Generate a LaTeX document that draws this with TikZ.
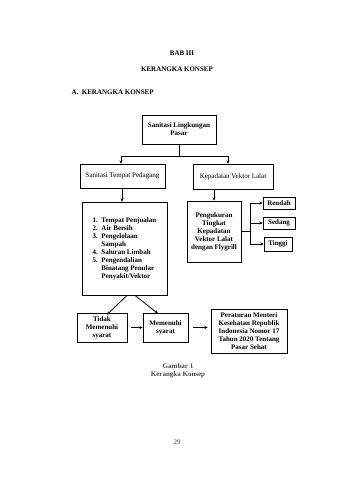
\documentclass[tikz,border=0pt]{standalone}
\usepackage{fontspec}
\setmainfont{Liberation Serif}
\usetikzlibrary{arrows.meta,positioning}
\definecolor{captiongray}{RGB}{70,70,70}
\tikzset{
  box/.style={rectangle,draw=black,line width=0.8pt,fill=white,
              align=center,inner sep=1pt,
              font=\fontsize{7}{8}\selectfont\bfseries},
  heading/.style={font=\fontsize{7}{8.5}\selectfont\bfseries},
  arrow/.style={-{Stealth[length=3.2pt,width=3.2pt]},line width=0.8pt},
  link/.style={line width=0.8pt},
}
\begin{document}
\begin{tikzpicture}[x=1pt,y=-1pt]
    \useasboundingbox[fill=white] (0,0) rectangle (339,480);

    % Headings
    \node[heading] (bab) at (182,53) {BAB III};
    \node[heading] (judul) at (177,69) {KERANGKA KONSEP};
    \node[heading,anchor=west] (sub) at (68,92) {A.\ \ KERANGKA KONSEP};

    % Top
    \node[box,minimum width=74pt,minimum height=29pt] (pasar) at (179,129.5)
        {Sanitasi Lingkungan\\Pasar};

    % Second row
    \node[box,minimum width=85pt,minimum height=24pt] (tempat) at (122.5,176)
        {\mdseries Sanitasi Tempat Pedagang};
    \node[box,minimum width=80pt,minimum height=25pt] (vektor) at (233,176.5)
        {\mdseries Kepadatan Vektor Lalat};

    % List
    \node[box,minimum width=85pt,minimum height=93pt] (daftar) at (124.5,248.5)
        {\begin{tabular}{@{}r@{\ \ }l@{}}
         1. & Tempat Penjualan\\
         2. & Air Bersih\\
         3. & Pengelolaan\\
            & Sampah\\
         4. & Saluran Limbah\\
         5. & Pengendalian\\
            & Binatang Penular\\
            & Penyakit/Vektor
         \end{tabular}};

    % Measurement
    \node[box,minimum width=54pt,minimum height=61pt] (ukur) at (214,231.5)
        {Pengukuran\\Tingkat\\Kepadatan\\Vektor Lalat\\dengan Flygrill};
    \node[box,minimum width=32pt,minimum height=12pt] (rendah) at (279,203) {Rendah};
    \node[box,minimum width=32pt,minimum height=12pt] (sedang) at (279,223) {Sedang};
    \node[box,minimum width=28pt,minimum height=14pt] (tinggi) at (278,244) {Tinggi};

    % Bottom row
    \node[box,minimum width=50pt,minimum height=29pt] (tidak) at (102,327.5)
        {Tidak\\Memenuhi\\syarat};
    \node[box,minimum width=45pt,minimum height=29pt] (memenuhi) at (165.5,327.5)
        {Memenuhi\\syarat};
    \node[box,minimum width=76pt,minimum height=44pt] (permenkes) at (249,331)
        {Peraturan Menteri\\Kesehatan Republik\\Indonesia Nomor 17\\Tahun 2020 Tentang\\Pasar Sehat};

    % Caption
    \node[heading,text=captiongray,align=center] (gambar) at (178,371)
        {Gambar 1\\Kerangka Konsep};
    \node[font=\fontsize{7}{8}\selectfont,text=captiongray] (hal) at (177,442) {29};

    \draw[link] (pasar.south) -- ++(0,12) coordinate (cabang);
    \draw[arrow] (cabang) -| ([xshift=-1.5pt]tempat.north);
    \draw[arrow] (cabang) -| ([xshift=-5pt]vektor.north);
    \draw[arrow] ([xshift=-0.5pt]tempat.south) -- ([xshift=-2.5pt]daftar.north);
    \draw[arrow] (vektor.south -| ukur) -- (ukur.north);
    \draw[link] (ukur.east) -- ++(9,0) coordinate (kanan);
    \draw[link] (kanan |- rendah) -- (kanan |- tinggi);
    \draw[arrow] (kanan |- rendah) -- (rendah.west);
    \draw[arrow] (kanan |- sedang) -- (sedang.west);
    \draw[arrow] (kanan |- tinggi) -- (tinggi.west);
    \draw[arrow] ([xshift=2.5pt]daftar.south) -- ([xshift=5pt,yshift=-2pt]tidak.north);
    \draw[arrow] ([xshift=10.5pt]daftar.south) -- ([xshift=-7.5pt,yshift=-1pt]memenuhi.north);
    \draw[arrow,shorten <=4pt] (tidak.east) -- (memenuhi.west);
    \draw[arrow,shorten <=5pt,shorten >=3pt] (memenuhi.east) -- (memenuhi.east -| permenkes.west);

  \end{tikzpicture}
\end{document}
